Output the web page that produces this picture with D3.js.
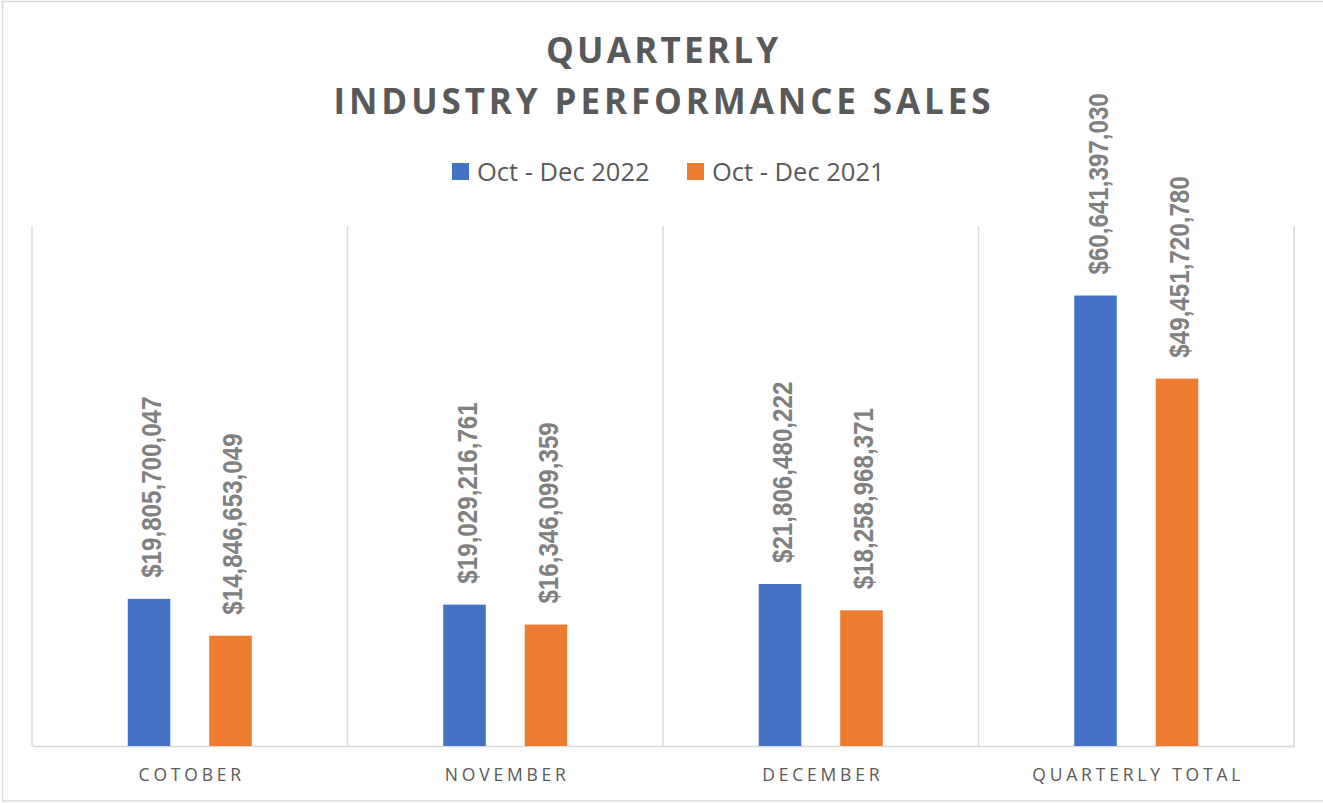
<!DOCTYPE html>
<html>
<head>
<meta charset="utf-8">
<script src="https://cdn.jsdelivr.net/npm/d3@7"></script>
<style>
  html, body { margin: 0; padding: 0; background: #ffffff; }
  svg { display: block; }
</style>
</head>
<body>
<svg id="chart" width="1323" height="803"></svg>
<script>
const titleLines = ["QUARTERLY", "INDUSTRY PERFORMANCE SALES"];
const categories = ["COTOBER", "NOVEMBER", "DECEMBER", "QUARTERLY TOTAL"];
const seriesNames = ["Oct - Dec 2022", "Oct - Dec 2021"];
const values2022 = [19805700047, 19029216761, 21806480222, 60641397030];
const values2021 = [14846653049, 16346099359, 18258968371, 49451720780];
const seriesColors = ["#4472c4", "#ed7d31"];

const seriesValues = [values2022, values2021];
const rows = categories.map((c, i) => ({
  cat: c,
  vals: seriesValues.map((s, j) => ({ key: j, value: s[i] }))
}));

const svg = d3.select("#chart");
const plot = { left: 32, right: 1294, top: 226, bottom: 746 };

// outer chart border
svg.append("rect")
  .attr("x", 2.5).attr("y", 1.5)
  .attr("width", 1340).attr("height", 799.5)
  .attr("fill", "#ffffff")
  .attr("stroke", "#d9d9d9").attr("stroke-width", 1.5);

const x0 = d3.scaleBand().domain(categories).range([plot.left, plot.right]).paddingInner(0).paddingOuter(0);
const x1 = d3.scaleBand().domain([0, 1]).range([0, x0.bandwidth()]).paddingInner(0.478).paddingOuter(1.175);
const y = d3.scaleLinear().domain([0, 70e9]).range([plot.bottom, plot.top]);

// vertical gridlines at category boundaries
const bounds = categories.map(c => x0(c)).concat([plot.right]);
svg.append("g").selectAll("line").data(bounds).join("line")
  .attr("x1", d => d).attr("x2", d => d)
  .attr("y1", plot.top).attr("y2", plot.bottom)
  .attr("stroke", "#d9d9d9").attr("stroke-width", 1.5);

// baseline / axis
const xAxis = d3.axisBottom(x0).tickSize(0).tickPadding(0);
const axisG = svg.append("g").attr("transform", `translate(0,${plot.bottom})`).call(xAxis);
axisG.select(".domain").attr("stroke", "#d9d9d9").attr("stroke-width", 1.5);
axisG.selectAll(".tick text")
  .attr("y", 35)
  .attr("dy", 0)
  .attr("dx", 2)
  .attr("fill", "#595959")
  .style("font-family", "'Open Sans', sans-serif")
  .style("font-size", "17.5px")
  .style("letter-spacing", "3.8px");

// bars
const groups = svg.append("g").selectAll("g").data(rows).join("g")
  .attr("transform", d => `translate(${x0(d.cat)},0)`);

groups.selectAll("rect").data(d => d.vals).join("rect")
  .attr("x", d => x1(d.key))
  .attr("width", x1.bandwidth())
  .attr("y", d => y(d.value))
  .attr("height", d => y(0) - y(d.value))
  .attr("fill", d => seriesColors[d.key]);

// data labels (rotated)
const fmt = d3.format(",");
groups.selectAll("text.lbl").data(d => d.vals).join("text")
  .attr("class", "lbl")
  .attr("transform", d => `translate(${x1(d.key) + x1.bandwidth() / 2 + 12},${y(d.value) - 21}) rotate(-90) scale(0.895,1)`)
  .attr("text-anchor", "start")
  .attr("fill", "#808080")
  .style("font-family", "'Liberation Sans', Arial, sans-serif")
  .style("font-weight", "bold")
  .style("font-size", "27px")
  .text(d => "$" + fmt(d.value));

// title
const tG = svg.append("g");
const titleBaselines = [63, 114];
const titleWidths = [232, 657];
titleLines.forEach((t, i) => {
  tG.append("text")
    .attr("x", 662).attr("y", titleBaselines[i])
    .attr("text-anchor", "middle")
    .attr("textLength", titleWidths[i])
    .attr("lengthAdjust", "spacing")
    .attr("fill", "#595959")
    .style("font-family", "'Open Sans', sans-serif")
    .style("font-weight", "bold")
    .style("font-size", "35px")
    .text(t);
});

// legend
const legendX = [452, 687];
const lg = svg.append("g").selectAll("g").data(seriesNames).join("g")
  .attr("transform", (d, i) => `translate(${legendX[i]},163)`);
lg.append("rect").attr("width", 17).attr("height", 17)
  .attr("fill", (d, i) => seriesColors[i]);
lg.append("text")
  .attr("x", 25).attr("y", 17.5)
  .attr("fill", "#595959")
  .style("font-family", "'Open Sans', sans-serif")
  .style("font-size", "25.5px")
  .text(d => d);
</script>
</body>
</html>
